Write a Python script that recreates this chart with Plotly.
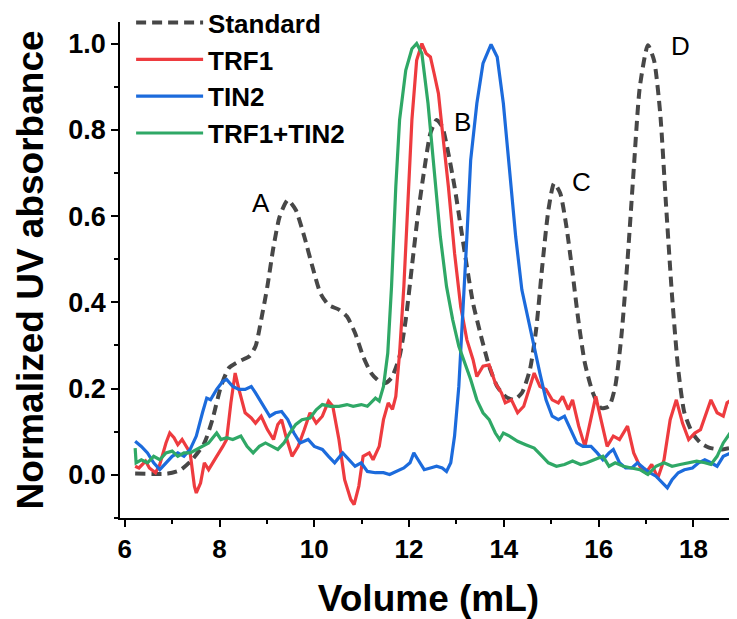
import plotly.graph_objects as go

# ---------------- data ----------------
std_x = [6.22, 6.91, 7.17, 7.42, 7.68, 7.85, 8.03, 8.20, 8.41, 8.63, 8.76, 8.88, 9.01, 9.14, 9.27, 9.44,
         9.61, 9.79, 9.96, 10.13, 10.30, 10.52, 10.69, 10.86, 11.03, 11.20, 11.37, 11.50, 11.63, 11.80,
         11.93, 12.06, 12.19, 12.32, 12.45, 12.58, 12.70, 12.83, 12.96, 13.09, 13.22, 13.35, 13.52, 13.69,
         13.86, 14.03, 14.21, 14.38, 14.55, 14.68, 14.81, 14.94, 15.06, 15.19, 15.32, 15.45, 15.58, 15.71,
         15.88, 16.05, 16.22, 16.35, 16.48, 16.61, 16.74, 16.87, 17.04, 17.17, 17.30, 17.42, 17.55, 17.68,
         17.81, 17.98, 18.15, 18.33, 18.58, 18.80]
std_y = [0.003, 0.003, 0.011, 0.035, 0.074, 0.128, 0.205, 0.248, 0.263, 0.275, 0.298, 0.36, 0.437, 0.529,
         0.599, 0.637, 0.614, 0.552, 0.483, 0.421, 0.394, 0.383, 0.367, 0.329, 0.275, 0.236, 0.217, 0.213,
         0.225, 0.275, 0.36, 0.483, 0.606, 0.707, 0.792, 0.823, 0.807, 0.745, 0.668, 0.576, 0.483, 0.398,
         0.321, 0.252, 0.205, 0.182, 0.174, 0.19, 0.244, 0.336, 0.483, 0.614, 0.676, 0.653, 0.576, 0.468,
         0.352, 0.259, 0.19, 0.155, 0.159, 0.205, 0.321, 0.498, 0.707, 0.9, 0.996, 0.961, 0.838, 0.63,
         0.414, 0.244, 0.144, 0.097, 0.074, 0.063, 0.059, 0.063]

trf1_x = [6.22, 6.30, 6.44, 6.52, 6.65, 6.74, 6.87, 6.95, 7.04, 7.12, 7.21, 7.30, 7.38, 7.47, 7.51, 7.60,
          7.68, 7.77, 7.85, 7.94, 8.07, 8.15, 8.24, 8.33, 8.41, 8.54, 8.67, 8.76, 8.88, 9.01, 9.14, 9.23,
          9.31, 9.40, 9.53, 9.66, 9.79, 9.91, 10.04, 10.17, 10.30, 10.39, 10.52, 10.64, 10.77, 10.84,
          10.94, 11.03, 11.16, 11.24, 11.37, 11.46, 11.56, 11.65, 11.72, 11.80, 11.89, 11.97, 12.06,
          12.16, 12.27, 12.36, 12.45, 12.53, 12.62, 12.70, 12.83, 12.96, 13.09, 13.22, 13.35, 13.43,
          13.56, 13.69, 13.82, 13.95, 14.03, 14.16, 14.29, 14.42, 14.55, 14.64, 14.76, 14.89, 15.02,
          15.15, 15.24, 15.36, 15.45, 15.58, 15.71, 15.84, 15.94, 16.05, 16.18, 16.31, 16.44, 16.61,
          16.74, 16.87, 17.00, 17.12, 17.25, 17.38, 17.51, 17.64, 17.77, 17.90, 18.03, 18.15, 18.28,
          18.37, 18.50, 18.63, 18.71, 18.80]
trf1_y = [0.02, 0.016, 0.032, 0.016, 0.005, 0.024, 0.074, 0.097, 0.086, 0.07, 0.082, 0.066, 0.051, -0.026,
          -0.042, -0.019, 0.028, 0.012, 0.028, 0.043, 0.066, 0.082, 0.167, 0.236, 0.198, 0.144, 0.132, 0.12,
          0.136, 0.105, 0.082, 0.117, 0.128, 0.09, 0.043, 0.066, 0.105, 0.144, 0.12, 0.136, 0.171, 0.159,
          0.082, -0.011, -0.057, -0.069, -0.026, 0.043, 0.051, 0.035, 0.066, 0.128, 0.167, 0.152, 0.182,
          0.282, 0.437, 0.63, 0.823, 0.961, 1.0, 0.977, 0.969, 0.93, 0.884, 0.8, 0.668, 0.514, 0.39, 0.313,
          0.267, 0.228, 0.252, 0.255, 0.213, 0.19, 0.167, 0.174, 0.144, 0.159, 0.205, 0.236, 0.205, 0.198,
          0.174, 0.167, 0.182, 0.151, 0.174, 0.113, 0.066, 0.128, 0.182, 0.128, 0.066, 0.09, 0.082, 0.113,
          0.051, 0.02, 0.005, 0.024, -0.007, 0.035, 0.128, 0.174, 0.12, 0.082, 0.097, 0.105, 0.144, 0.174,
          0.144, 0.136, 0.167, 0.174]

tin2_x = [6.22, 6.35, 6.48, 6.61, 6.74, 6.87, 7.00, 7.12, 7.25, 7.38, 7.51, 7.64, 7.73, 7.81, 7.94, 8.07,
          8.15, 8.28, 8.41, 8.54, 8.67, 8.76, 8.88, 9.06, 9.18, 9.31, 9.44, 9.57, 9.70, 9.87, 10.00, 10.17,
          10.30, 10.43, 10.60, 10.73, 10.86, 10.99, 11.12, 11.29, 11.46, 11.59, 11.72, 11.89, 12.02, 12.10,
          12.19, 12.32, 12.45, 12.58, 12.70, 12.79, 12.88, 12.96, 13.05, 13.13, 13.22, 13.30, 13.43, 13.56,
          13.73, 13.86, 13.99, 14.12, 14.25, 14.38, 14.51, 14.64, 14.76, 14.89, 15.02, 15.15, 15.28, 15.41,
          15.54, 15.67, 15.84, 15.97, 16.09, 16.22, 16.31, 16.44, 16.57, 16.70, 16.82, 16.95, 17.08, 17.21,
          17.34, 17.45, 17.55, 17.68, 17.81, 17.98, 18.11, 18.24, 18.37, 18.50, 18.63, 18.80]
tin2_y = [0.078, 0.066, 0.051, 0.028, 0.012, 0.028, 0.043, 0.051, 0.043, 0.059, 0.09, 0.144, 0.178, 0.174,
          0.198, 0.217, 0.221, 0.205, 0.198, 0.198, 0.205, 0.19, 0.167, 0.136, 0.144, 0.147, 0.128, 0.097,
          0.074, 0.082, 0.066, 0.059, 0.043, 0.028, 0.051, 0.035, 0.02, 0.028, 0.008, 0.005, 0.005, 0.001,
          0.008, 0.016, 0.028, 0.051, 0.035, 0.012, 0.016, 0.02, 0.016, 0.008, 0.028, 0.09, 0.205, 0.36,
          0.552, 0.73, 0.861, 0.954, 0.998, 0.969, 0.861, 0.707, 0.552, 0.429, 0.36, 0.298, 0.236, 0.174,
          0.136, 0.128, 0.136, 0.105, 0.074, 0.066, 0.066, 0.051, 0.035, 0.051, 0.059, 0.028, 0.016, 0.016,
          0.028, 0.016, 0.005, -0.003, -0.019, -0.03, -0.011, 0.005, 0.012, 0.016, 0.028, 0.035, 0.028,
          0.02, 0.043, 0.051]

mix_x = [6.22, 6.24, 6.35, 6.48, 6.61, 6.74, 6.87, 7.00, 7.12, 7.25, 7.38, 7.51, 7.64, 7.77, 7.94, 8.03,
         8.15, 8.28, 8.45, 8.58, 8.71, 8.84, 8.97, 9.10, 9.23, 9.36, 9.48, 9.61, 9.74, 9.91, 10.04, 10.17,
         10.34, 10.52, 10.69, 10.82, 10.99, 11.12, 11.29, 11.37, 11.46, 11.55, 11.63, 11.72, 11.80, 11.93,
         12.06, 12.16, 12.27, 12.40, 12.53, 12.66, 12.79, 12.92, 13.05, 13.18, 13.30, 13.43, 13.56, 13.69,
         13.82, 13.91, 13.99, 14.12, 14.29, 14.46, 14.64, 14.81, 14.94, 15.11, 15.28, 15.45, 15.62, 15.75,
         15.92, 16.09, 16.22, 16.35, 16.52, 16.70, 16.87, 17.04, 17.21, 17.38, 17.55, 17.72, 17.90, 18.07,
         18.24, 18.37, 18.50, 18.63, 18.80]
mix_y = [0.062, 0.028, 0.035, 0.028, 0.043, 0.035, 0.051, 0.055, 0.043, 0.051, 0.051, 0.059, 0.066, 0.074,
         0.097, 0.082, 0.086, 0.082, 0.09, 0.066, 0.051, 0.066, 0.074, 0.066, 0.059, 0.074, 0.097, 0.117,
         0.128, 0.132, 0.151, 0.163, 0.159, 0.159, 0.163, 0.159, 0.163, 0.159, 0.178, 0.171, 0.205, 0.282,
         0.437, 0.668, 0.823, 0.938, 0.988, 1.0, 0.977, 0.861, 0.707, 0.552, 0.437, 0.36, 0.298, 0.259,
         0.221, 0.174, 0.144, 0.128, 0.097, 0.082, 0.097, 0.09, 0.078, 0.07, 0.062, 0.043, 0.028, 0.02,
         0.024, 0.032, 0.024, 0.028, 0.035, 0.043, 0.02, 0.028, 0.02, 0.016, 0.012, 0.001, 0.02, 0.028,
         0.02, 0.024, 0.028, 0.032, 0.028, 0.024, 0.043, 0.074, 0.101]

peak_labels = ["A", "B", "C", "D"]
peak_label_x = [8.88, 13.12, 15.63, 17.72]
peak_label_y = [0.631, 0.819, 0.68, 0.995]

x_ticks = [6, 8, 10, 12, 14, 16, 18]
y_ticks = [0.0, 0.2, 0.4, 0.6, 0.8, 1.0]

# ---------------- figure ----------------
FONT = "Liberation Sans, Arial, sans-serif"
fig = go.Figure()
fig.add_trace(go.Scatter(x=std_x, y=std_y, mode="lines", name="Standard",
                         line=dict(color="#474747", width=4, dash="10px,6px", shape="spline", smoothing=0.6)))
fig.add_trace(go.Scatter(x=trf1_x, y=trf1_y, mode="lines", name="TRF1",
                         line=dict(color="#EE3B3F", width=3.2)))
fig.add_trace(go.Scatter(x=tin2_x, y=tin2_y, mode="lines", name="TIN2",
                         line=dict(color="#1C6BDC", width=3.2)))
fig.add_trace(go.Scatter(x=mix_x, y=mix_y, mode="lines", name="TRF1+TIN2",
                         line=dict(color="#2FA866", width=3.2)))

for t, xx, yy in zip(peak_labels, peak_label_x, peak_label_y):
    fig.add_annotation(x=xx, y=yy, text=t, showarrow=False,
                       font=dict(family=FONT, size=26, color="black"))

# the page body adds an 8px offset, so the figure is 8px smaller and margins shifted
fig.update_layout(
    width=729, height=611,
    margin=dict(l=112, r=0, t=14, b=101, autoexpand=False),
    plot_bgcolor="white", paper_bgcolor="white",
    font=dict(family=FONT, color="black"),
    showlegend=True,
    legend=dict(x=0.018, y=1.046, xanchor="left", yanchor="top",
                bgcolor="rgba(0,0,0,0)", itemwidth=67,
                font=dict(family=FONT, size=26, weight="bold", color="black")),
)
fig.update_xaxes(
    range=[5.9, 18.92], tickvals=x_ticks, ticktext=[str(v) for v in x_ticks], automargin=False,
    showgrid=False, zeroline=False, showline=True, linecolor="black", linewidth=1.5,
    ticks="outside", ticklen=7, tickwidth=1.5, tickcolor="black",
    minor=dict(dtick=1, tick0=6, ticks="outside", ticklen=4, tickwidth=1.5, tickcolor="black"),
    tickfont=dict(family=FONT, size=26, weight="bold"),
    title=dict(text="Volume (mL)", standoff=24, font=dict(family=FONT, size=37, weight="bold")),
)
fig.update_yaxes(
    range=[-0.1, 1.05], tickvals=y_ticks, ticktext=[f"{v:.1f}" for v in y_ticks], automargin=False,
    showgrid=False, zeroline=False, showline=True, linecolor="black", linewidth=1.5,
    ticks="outside", ticklen=7, tickwidth=1.5, tickcolor="black",
    minor=dict(dtick=0.1, tick0=0, ticks="outside", ticklen=4, tickwidth=1.5, tickcolor="black"),
    tickfont=dict(family=FONT, size=27, weight="bold"),
    title=dict(text="Normalized UV absorbance", standoff=13, font=dict(family=FONT, size=37, weight="bold")),
)

fig.write_html("out.html")
